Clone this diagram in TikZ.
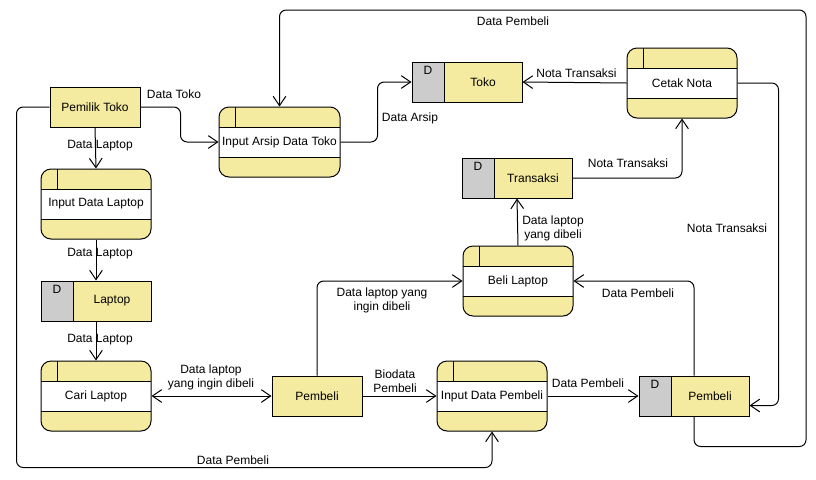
\documentclass[tikz,border=0pt]{standalone}
\usepackage{fontspec}
\setmainfont{Liberation Sans}
\usetikzlibrary{arrows.meta,calc}
\definecolor{yel}{RGB}{245,235,160}
\definecolor{dgray}{RGB}{204,204,204}
\tikzset{
  txt/.style={inner sep=0pt, font=\fontsize{9}{10.5}\selectfont, align=center},
  procfill/.style={fill=yel, rounded corners=7.5pt, inner sep=0pt, draw=none},
  storebox/.style={fill=yel, draw, inner sep=0pt},
  extbox/.style={fill=yel, draw, inner sep=0pt, minimum width=67.5pt, minimum height=30pt, font=\fontsize{9}{10.5}\selectfont},
  arr/.style={-{Straight Barb[length=7pt,width=9.5pt]}, rounded corners=5pt},
  darr/.style={{Straight Barb[length=7pt,width=9.5pt]}-{Straight Barb[length=7pt,width=9.5pt]}},
}
\newcommand{\procnode}[5]{%
  \node[procfill, minimum width={#4*0.75pt}, minimum height=52.5pt] (#1) at (#2,#3) {};
  \fill[white] ({#2-#4/2},{#3-15}) rectangle ({#2+#4/2},{#3+15});
  \draw ({#2-#4/2},{#3-15}) -- ({#2+#4/2},{#3-15}) ({#2-#4/2},{#3+15}) -- ({#2+#4/2},{#3+15});
  \draw ({#2-#4/2+16},{#3-35}) -- ({#2-#4/2+16},{#3-15});
  \draw[rounded corners=7.5pt] ({#2-#4/2},{#3-35}) rectangle ({#2+#4/2},{#3+35});
  \node[txt] at (#2,#3) {#5};
}
\newcommand{\storenode}[5]{%
  \node[storebox, minimum width={#4*0.75pt}, minimum height=30pt] (#1) at (#2,#3) {};
  \filldraw[fill=dgray] ({#2-#4/2},{#3-20}) rectangle ({#2-#4/2+32},{#3+20});
  \node[txt] at ({#2-#4/2+16},{#3-12}) {D};
  \node[txt] at ({#2+16},{#3}) {#5};
}
\begin{document}
\begin{tikzpicture}[x=0.75pt,y=-0.75pt,line width=0.75pt]
\useasboundingbox[fill=white] (0,0) rectangle (816,479);
% external entities
\node[extbox] (pemilik) at (95,107) {Pemilik Toko};
\node[extbox] (pembeli) at (317,396) {Pembeli};
% processes
\procnode{arsip}{279.5}{142}{121}{Input Arsip Data Toko}
\procnode{idl}{96}{204}{110}{Input Data Laptop}
\procnode{cari}{96}{396}{110}{Cari Laptop}
\procnode{idp}{492}{396}{110}{Input Data Pembeli}
\procnode{beli}{518}{281}{110}{Beli Laptop}
\procnode{cetak}{682}{83}{110}{Cetak Nota}
% data stores
\storenode{laptop}{96}{301}{110}{Laptop}
\storenode{toko}{467}{82}{110}{Toko}
\storenode{transaksi}{517}{178}{110}{Transaksi}
\storenode{pstore}{694}{396}{110}{Pembeli}
\coordinate (ctop) at (806,10);
% connectors
\draw[arr] (pemilik.west) -- ++(-33,0) |- ($(idp.south)+(0,36)$) -- (idp.south);
\draw[arr] (pemilik.east) -- ++(40,0) |- (arsip.west);
\draw[arr] (pemilik.south) -- (idl.north);
\draw[arr] (idl.south) -- (laptop.north);
\draw[arr] (laptop.south) -- (cari.north);
\draw[darr] (cari.east) -- (pembeli.west);
\draw[arr] (pembeli.east) -- (idp.west);
\draw[arr] (pembeli.north) |- (beli.west);
\draw[arr] (idp.east) -- (pstore.west);
\draw[arr] (pstore.north) |- (beli.east);
\draw[arr] (pstore.south) -- ++(0,30) -| (ctop) -| (arsip.north);
\draw[arr] (cetak.east) -- ++(41,0) |- ($(pstore.east)+(0,9.5)$);
\draw[arr] (cetak.west) -- (toko.east);
\draw[arr] (transaksi.east) -| (cetak.south);
\draw[arr] (beli.north) -- (transaksi.south);
\draw[arr] (arsip.east) -- ++(37,0) |- (toko.west);
% labels
\node[txt] (l1) at (174,94) {Data Toko};
\node[txt] (l2) at (100,146) {Data Laptop};
\node[txt] (l3) at (100,254) {Data Laptop};
\node[txt] (l4) at (100,340) {Data Laptop};
\node[txt] (l5) at (211,377) {Data laptop\\yang ingin dibeli};
\node[txt] (l6) at (395,381) {Biodata\\Pembeli};
\node[txt] (l7) at (382,300) {Data laptop yang\\ingin dibeli};
\node[txt] (l8) at (233,460) {Data Pembeli};
\node[txt] (l9) at (410,118) {Data Arsip};
\node[txt] (l10) at (513,21) {Data Pembeli};
\node[txt] (l11) at (576.5,73) {Nota Transaksi};
\node[txt] (l12) at (628,163) {Nota Transaksi};
\node[txt] (l13) at (553,228) {Data laptop\\yang dibeli};
\node[txt] (l14) at (727,228) {Nota Transaksi};
\node[txt] (l15) at (638,293) {Data Pembeli};
\node[txt] (l16) at (588,383) {Data Pembeli};
\end{tikzpicture}
\end{document}
